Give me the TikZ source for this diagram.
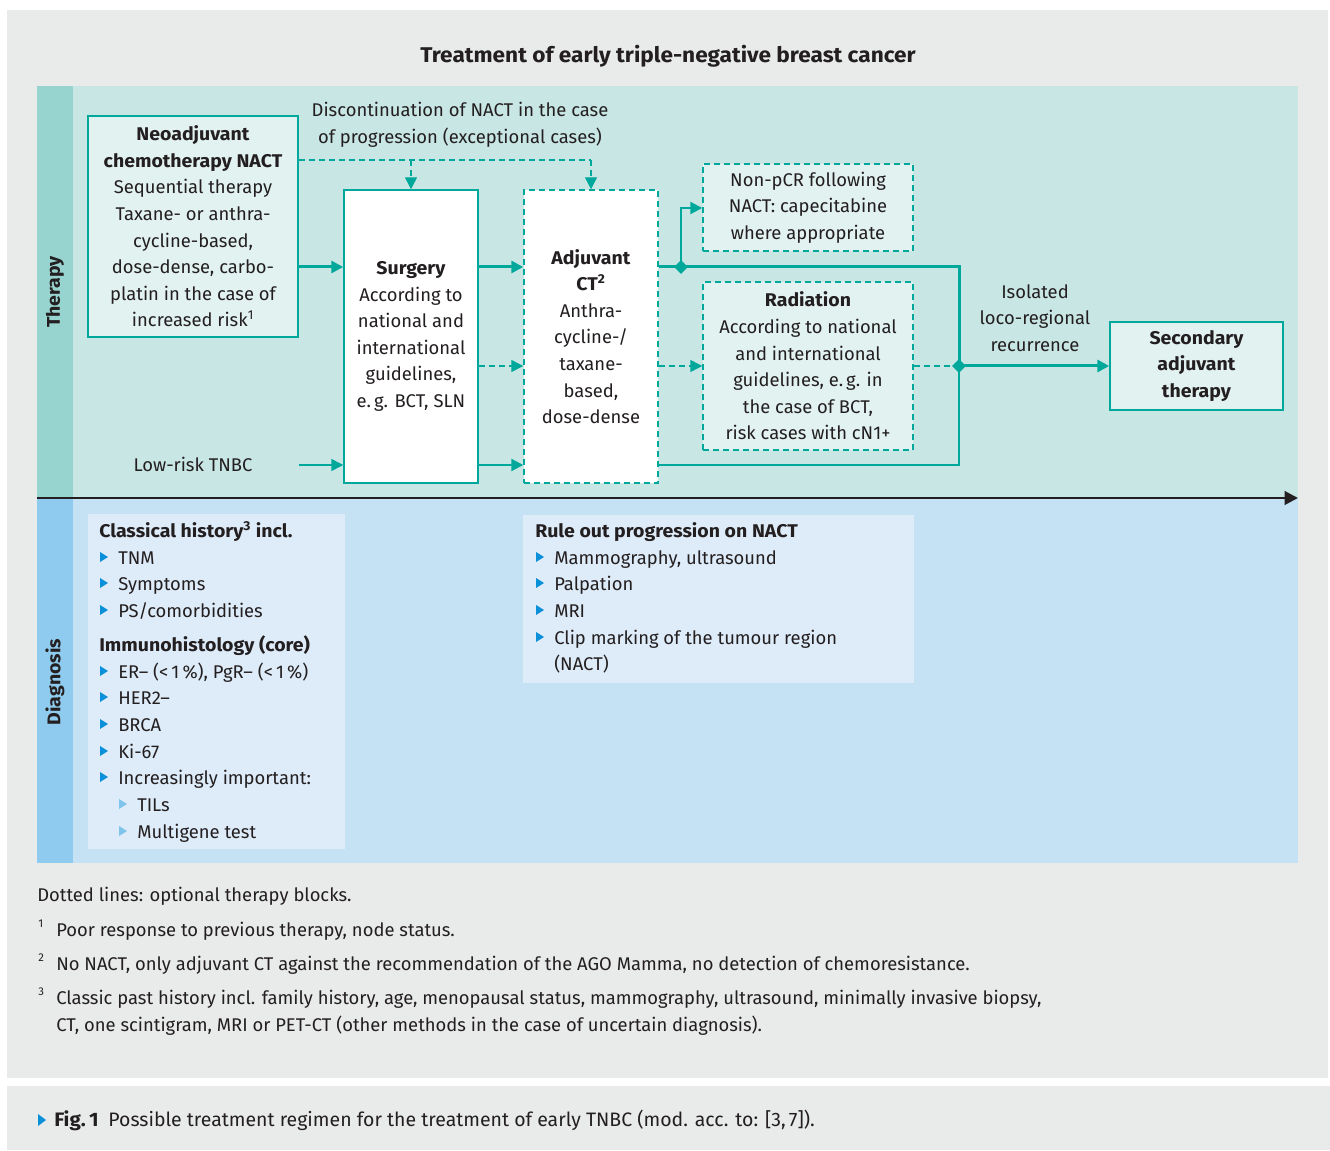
\documentclass[tikz,border=0pt]{standalone}
\usepackage{fontspec}
\setmainfont{Fira Sans}[BoldFeatures={FakeStretch=1.06}]
\usetikzlibrary{arrows.meta,shapes.geometric}
\definecolor{tl}{HTML}{00A89C}
\definecolor{txt}{HTML}{231F20}
\definecolor{outer}{HTML}{E9EBEA}
\definecolor{thbg}{HTML}{C8E6E4}
\definecolor{thband}{HTML}{98D4CF}
\definecolor{dgbg}{HTML}{C5E1F4}
\definecolor{dgband}{HTML}{8FCBEE}
\definecolor{dgbox}{HTML}{DEEBF8}
\definecolor{nfill}{HTML}{E2F2F0}
\definecolor{bl}{HTML}{0A90D8}
\definecolor{bll}{HTML}{7FC4EC}
\newcommand\fs{\fontsize{13.8}{19.95}\selectfont}
\tikzset{
  sz/.style 2 args={minimum width={#1*0.75pt}, minimum height={#2*0.75pt}},
  solidbox/.style={draw=tl, line width=1.1pt, inner sep=0pt, align=center},
  dashbox/.style={draw=tl, line width=1.1pt, dash pattern=on 4.5pt off 3pt, inner sep=0pt, align=center},
  tip/.style={-{Triangle[length=9pt,width=9pt]}},
  thickln/.style={draw=tl, line width=2.25pt},
  midln/.style={draw=tl, line width=1.6pt},
  thinln/.style={draw=tl, line width=1.1pt},
  dashln/.style={draw=tl, line width=1.1pt, dash pattern=on 4.5pt off 3pt},
  jn/.style={diamond, fill=tl, inner sep=0pt, minimum size=10.5pt},
  lbl/.style={anchor=base west, inner sep=0pt},
}
\begin{document}
\begin{tikzpicture}[x=0.75pt,y=-0.75pt, font=\fs, text=txt]
\useasboundingbox (0,0) rectangle (1330,1151);
\fill[white] (0,0) rectangle (1330,1151);
\fill[outer] (7,10) rectangle (1328,1078);
\fill[outer] (7,1086) rectangle (1330,1150);
% panels
\fill[thbg] (37,86) rectangle (1298,498);
\fill[thband] (37,86) rectangle (73,498);
\fill[dgbg] (37,498) rectangle (1298,863);
\fill[dgband] (37,498) rectangle (73,863);
\draw[txt, line width=2.1pt, -{Triangle[length=10pt,width=10pt]}] (37,498) -- (1298,498);
\node[rotate=90, font=\bfseries\fs] (lthe) at (55,292) {Therapy};
\node[rotate=90, font=\bfseries\fs] (ldia) at (55,682) {Diagnosis};
% title
\node[font=\bfseries\fontsize{16}{19}\selectfont] (title) at (668,56) {Treatment of early triple-negative breast cancer};
% row / column coordinates
\coordinate (r0) at (0,160);
\coordinate (rn) at (0,208);
\coordinate (r1) at (0,267);
\coordinate (r2) at (0,366);
\coordinate (r3) at (0,465);
\coordinate (cb) at (681,0);
\coordinate (cj) at (959,0);
% boxes
\node[solidbox, fill=nfill, sz={210}{221}] (nact) at (193,226.5) {\textbf{Neoadjuvant}\\\textbf{chemotherapy NACT}\\Sequential therapy\\Taxane- or anthra-\\cycline-based,\\dose-dense, carbo-\\platin in the case of\\increased risk\textsuperscript{1}};
\node[solidbox, fill=white, sz={134}{293}] (surg) at (411,336.5) {\textbf{Surgery}\\According to\\national and\\international\\guidelines,\\e.\,g. BCT, SLN};
\node[dashbox, fill=white, sz={134}{293}] (ct) at (591,336.5) {\textbf{Adjuvant}\\\textbf{CT\textsuperscript{2}}\\Anthra-\\cycline-/\\taxane-\\based,\\dose-dense};
\node[dashbox, fill=nfill, sz={210}{87}] (np) at (808,207.5) {Non-pCR following\\NACT: capecitabine\\where appropriate};
\node[dashbox, fill=nfill, sz={210}{168}] (rad) at (808,366) {\textbf{Radiation}\\According to national\\and international\\guidelines, e.\,g. in\\the case of BCT,\\risk cases with cN1+};
\node[solidbox, fill=nfill, sz={173}{88}] (sec) at (1196.5,366) {\textbf{Secondary}\\\textbf{adjuvant}\\\textbf{therapy}};
\node[align=center] (disc) at (460,124.5) {Discontinuation of NACT in the case\\of progression (exceptional cases)};
\node (low) at (193,464) {Low-risk TNBC};
\node[align=center] (iso) at (1035,318) {Isolated\\loco-regional\\recurrence};
% connectors
\draw[thickln, tip] (nact.east |- r1) -- (surg.west |- r1);
\draw[thickln, tip] (surg.east |- r1) -- (ct.west |- r1);
\draw[dashln, tip] (surg.east |- r2) -- (ct.west |- r2);
\draw[thinln, tip] (nact.east |- r3) -- (surg.west |- r3);
\draw[midln, tip] (surg.east |- r3) -- (ct.west |- r3);
\draw[dashln] (nact.east |- r0) -- (ct.north |- r0);
\draw[dashln, tip] (surg.north |- r0) -- (surg.north);
\draw[dashln, tip] (ct.north |- r0) -- (ct.north);
\draw[thickln] (ct.east |- r1) -- (cj |- r1) -- (cj |- r2);
\draw[midln, tip] (cb |- r1) -- (cb |- rn) -- (np.west |- rn);
\draw[dashln, tip] (ct.east |- r2) -- (rad.west |- r2);
\draw[dashln] (rad.east |- r2) -- (cj |- r2);
\draw[midln] (ct.east |- r3) -- (cj |- r3) -- (cj |- r2);
\draw[thickln, tip] (cj |- r2) -- (sec.west |- r2);
\node[jn] (j1) at (cb |- r1) {};
\node[jn] (j2) at (cj |- r2) {};
% diagnosis boxes
\node[fill=dgbox, inner sep=0pt, sz={257}{335}, anchor=north west] (d1) at (88,514) {};
\node[fill=dgbox, inner sep=0pt, sz={391}{168}, anchor=north west] (d2) at (523,515) {};
\node[lbl, font=\bfseries\fs] (d1h1) at (99,537) {Classical history\textsuperscript{3} incl.};
\node[lbl, font=\bfseries\fs] (d1h2) at (99,651) {Immunohistology (core)};
\foreach \y/\t in {564/TNM, 590/Symptoms, 617/{PS/comorbidities}, 678/{ER-- (<\,1\,\%), PgR-- (<\,1\,\%)}, 704/HER2--, 731/BRCA, 758/Ki-67, 784/Increasingly important:} {
  \fill[bl] (100,\y-12) -- (108,\y-7) -- (100,\y-2) -- cycle;
  \node[lbl] at (118,\y) {\t};
}
\foreach \y/\t in {811/TILs, 838/Multigene test} {
  \fill[bll] (119,\y-12) -- (127,\y-7) -- (119,\y-2) -- cycle;
  \node[lbl] at (137,\y) {\t};
}
\node[lbl, font=\bfseries\fs] (d2h) at (535,537) {Rule out progression on NACT};
\foreach \y/\t in {564/{Mammography, ultrasound}, 590/Palpation, 617/MRI, 644/Clip marking of the tumour region} {
  \fill[bl] (536,\y-12) -- (544,\y-7) -- (536,\y-2) -- cycle;
  \node[lbl] at (554,\y) {\t};
}
\node[lbl] at (554,670) {(NACT)};
% footnotes
\node[lbl] (fn0) at (37,901) {Dotted lines: optional therapy blocks.};
\node[lbl, font=\fontsize{8.5}{10}\selectfont] at (38,927) {1};
\node[lbl] (fn1) at (56,936) {Poor response to previous therapy, node status.};
\node[lbl, font=\fontsize{8.5}{10}\selectfont] at (38,961) {2};
\node[lbl] (fn2) at (56,970) {No NACT, only adjuvant CT against the recommendation of the AGO Mamma, no detection of chemoresistance.};
\node[lbl, font=\fontsize{8.5}{10}\selectfont] at (38,995) {3};
\node[lbl] (fn3) at (56,1004) {Classic past history incl. family history, age, menopausal status, mammography, ultrasound, minimally invasive biopsy,};
\node[lbl] (fn3b) at (56,1031) {CT, one scintigram, MRI or PET-CT (other methods in the case of uncertain diagnosis).};
% caption
\fill[bl] (38,1114) -- (46,1120) -- (38,1126) -- cycle;
\node[lbl, font=\fontsize{14.6}{18}\selectfont] (cap) at (54,1126) {\textbf{Fig.\,1}\enspace Possible treatment regimen for the treatment of early TNBC (mod. acc. to: [3,\,7]).};
\end{tikzpicture}
\end{document}
